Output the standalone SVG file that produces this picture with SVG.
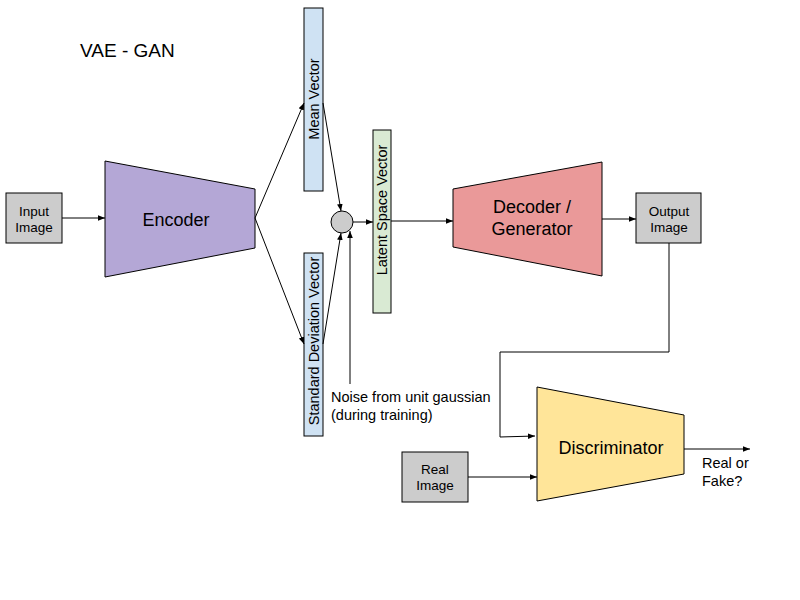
<svg xmlns="http://www.w3.org/2000/svg" width="800" height="600" viewBox="0 0 800 600">
<style>
text{font-family:"Liberation Sans",Arial,sans-serif;fill:#000}
.s{font-size:13.5px}
.m{font-size:14.5px}
.b{font-size:18px}
.edge{stroke:#000;stroke-width:1;fill:none}
.box{stroke:#000;stroke-width:1}
</style>
<defs>
<marker id="ah" viewBox="0 0 10 10" refX="10" refY="5" markerWidth="7" markerHeight="7" markerUnits="userSpaceOnUse" orient="auto">
<path d="M0,1 L10,5 L0,9 z" fill="#000"/>
</marker>
</defs>
<rect width="800" height="600" fill="#fff"/>
<text x="80" y="57" font-size="19">VAE - GAN</text>
<g id="input">
<rect class="box" x="6" y="193" width="56" height="50" fill="#cccccc"/>
<text class="s" text-anchor="middle" x="34" y="216">Input</text>
<text class="s" text-anchor="middle" x="34" y="232">Image</text>
</g>
<g id="encoder">
<polygon class="box" points="105,161 255,189 255,248 105,277" fill="#b4a7d6"/>
<text class="b" text-anchor="middle" x="176" y="226">Encoder</text>
</g>
<g id="mean">
<rect class="box" x="304" y="8" width="19" height="183" fill="#cfe2f3"/>
<text class="m" text-anchor="middle" transform="translate(319,99) rotate(-90)">Mean Vector</text>
</g>
<g id="std">
<rect class="box" x="304" y="253" width="19" height="183" fill="#cfe2f3"/>
<text class="m" text-anchor="middle" transform="translate(319,341) rotate(-90)">Standard Deviation Vector</text>
</g>
<g id="sample">
<circle class="box" cx="342" cy="222" r="11" fill="#cccccc"/>
</g>
<g id="latent">
<rect class="box" x="373" y="130" width="18" height="183" fill="#d9ead3"/>
<text class="m" text-anchor="middle" transform="translate(387,210) rotate(-90)">Latent Space Vector</text>
</g>
<g id="decoder">
<polygon class="box" points="453,189 602,162 602,276 453,247" fill="#ea9999"/>
<text class="b" text-anchor="middle" x="532" y="213">Decoder /</text>
<text class="b" text-anchor="middle" x="532" y="235">Generator</text>
</g>
<g id="output">
<rect class="box" x="636" y="193" width="65" height="50" fill="#cccccc"/>
<text class="s" text-anchor="middle" x="669" y="216">Output</text>
<text class="s" text-anchor="middle" x="669" y="232">Image</text>
</g>
<g id="discriminator">
<polygon class="box" points="537,387 684,415 684,474 537,501" fill="#ffe599"/>
<text class="b" text-anchor="middle" x="611" y="454">Discriminator</text>
</g>
<g id="real">
<rect class="box" x="402" y="452" width="66" height="50" fill="#cccccc"/>
<text class="s" text-anchor="middle" x="435" y="474">Real</text>
<text class="s" text-anchor="middle" x="435" y="490">Image</text>
</g>
<g id="labels">
<text class="m" x="331" y="402">Noise from unit gaussian</text>
<text class="m" x="331" y="420">(during training)</text>
<text class="m" x="702" y="468">Real or</text>
<text class="m" x="702" y="486">Fake?</text>
</g>
<g id="connectors">
<line class="edge" x1="62" y1="218" x2="105" y2="218" marker-end="url(#ah)"/>
<line class="edge" x1="255" y1="218" x2="304" y2="103" marker-end="url(#ah)"/>
<line class="edge" x1="255" y1="218" x2="304" y2="344" marker-end="url(#ah)"/>
<line class="edge" x1="323" y1="103" x2="341" y2="211" marker-end="url(#ah)"/>
<line class="edge" x1="323" y1="344" x2="341" y2="233" marker-end="url(#ah)"/>
<line class="edge" x1="350" y1="384" x2="350" y2="231" marker-end="url(#ah)"/>
<line class="edge" x1="353" y1="222" x2="373" y2="222" marker-end="url(#ah)"/>
<line class="edge" x1="391" y1="221" x2="453" y2="221" marker-end="url(#ah)"/>
<line class="edge" x1="602" y1="219" x2="636" y2="219" marker-end="url(#ah)"/>
<polyline class="edge" points="669,243 669,352 500,352 500,437 535,436" marker-end="url(#ah)"/>
<line class="edge" x1="468" y1="477" x2="537" y2="477" marker-end="url(#ah)"/>
<line class="edge" x1="684" y1="449" x2="750" y2="449" marker-end="url(#ah)"/>
</g>
</svg>
